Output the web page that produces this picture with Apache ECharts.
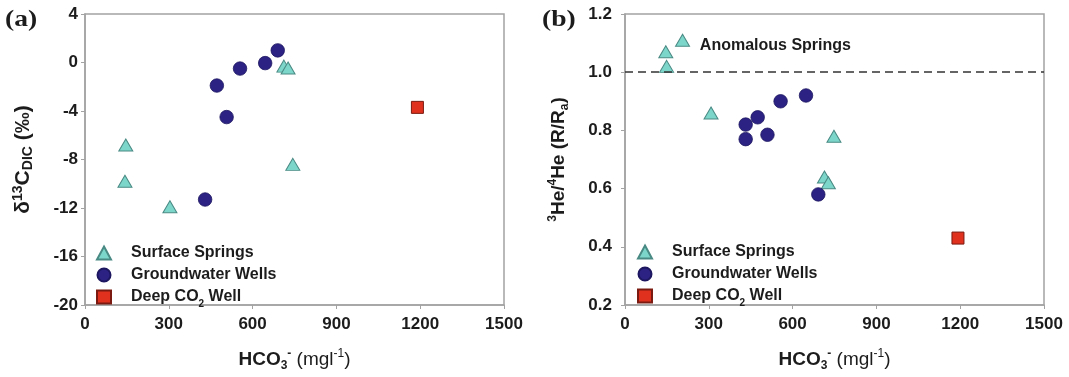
<!DOCTYPE html>
<html>
<head>
<meta charset="utf-8">
<script src="https://cdn.jsdelivr.net/npm/echarts@6/dist/echarts.min.js"></script>
<style>
  html, body { margin: 0; padding: 0; background: #fff; }
  #chart { width: 1069px; height: 377px; }
</style>
</head>
<body>
<div id="chart"></div>
<script>
// Panel (a): delta 13C of DIC vs bicarbonate
const springsA_hco3 = [146, 143, 304, 744, 712, 727];
const springsA_d13c = [-6.8, -9.8, -11.9, -8.4, -0.3, -0.45];
const wellsA_hco3 = [430, 472, 507, 555, 645, 690];
const wellsA_d13c = [-11.3, -1.9, -4.5, -0.5, -0.05, 1.0];
const deepA_hco3 = [1190];
const deepA_d13c = [-3.7];

// Panel (b): helium isotope ratio vs bicarbonate
const springsB_hco3 = [206, 146, 149, 308, 748, 714, 728];
const springsB_ratio = [1.11, 1.07, 1.02, 0.86, 0.78, 0.64, 0.62];
const wellsB_hco3 = [432, 475, 432, 510, 557, 648, 692];
const wellsB_ratio = [0.82, 0.845, 0.77, 0.785, 0.90, 0.92, 0.58];
const deepB_hco3 = [1192];
const deepB_ratio = [0.43];

// Reference lines / notes
const atmosphericRatio = 1.0;
const anomalyNoteAt = [268, 1.092];
const anomalyNote = 'Anomalous Springs';

const seriesNames = ['Surface Springs', 'Groundwater Wells', 'Deep CO2 Well'];
const legendLabels = ['Surface Springs', 'Groundwater Wells', 'Deep CO{s|2} Well'];

const FONT = '"Liberation Sans", Arial, Helvetica, sans-serif';
const AXIS_GREY = '#a3a3a3';
const INK = '#1c1c1c';

const zip = (xs, ys) => xs.map((x, i) => [x, ys[i]]);

const styles = {
  springs: { symbol: 'triangle', symbolSize: [14, 12],
    itemStyle: { color: '#7dd6ca', borderColor: '#4a8a84', borderWidth: 1, opacity: 1 } },
  wells: { symbol: 'circle', symbolSize: 13.5,
    itemStyle: { color: '#2b2284', borderColor: '#1d1760', borderWidth: 0.8, opacity: 1 } },
  deep: { symbol: 'rect', symbolSize: 12,
    itemStyle: { color: '#e0301e', borderColor: '#7a1a10', borderWidth: 1, opacity: 1 } }
};

function scatter(name, style, data, idx, extra) {
  return Object.assign({
    type: 'scatter', name: name, xAxisIndex: idx, yAxisIndex: idx,
    data: data, symbol: style.symbol, symbolSize: style.symbolSize,
    itemStyle: style.itemStyle, z: 3, emphasis: { disabled: true }
  }, extra || {});
}

const subSup = {
  b: { fontFamily: FONT, fontWeight: 'bold', fontSize: 19, lineHeight: 24, color: INK },
  n: { fontFamily: FONT, fontWeight: 'normal', fontSize: 19, lineHeight: 24, color: INK },
  bsub: { fontFamily: FONT, fontWeight: 'bold', fontSize: 12, lineHeight: 12, verticalAlign: 'bottom', color: INK },
  bsup: { fontFamily: FONT, fontWeight: 'bold', fontSize: 12, lineHeight: 12, verticalAlign: 'top', color: INK },
  nsup: { fontFamily: FONT, fontWeight: 'normal', fontSize: 12, lineHeight: 12, verticalAlign: 'top', color: INK }
};

const xName = '{b|HCO}{bsub|3}{bsup|-}{n| (mgl}{nsup|-1}{n|)}';

function xAxis(idx) {
  return {
    type: 'value', gridIndex: idx, min: 0, max: 1500, interval: 300,
    name: xName, nameLocation: 'middle', nameGap: 43,
    nameTextStyle: { rich: subSup },
    axisLine: { show: true, onZero: false, lineStyle: { color: AXIS_GREY, width: 1.5 } },
    axisTick: { show: true, length: 4, lineStyle: { color: AXIS_GREY, width: 1 } },
    axisLabel: { margin: 11, fontFamily: FONT, fontWeight: 'bold', fontSize: 17, color: INK,
      formatter: v => String(v) },
    splitLine: { show: false }
  };
}

const option = {
  animation: false,
  backgroundColor: '#ffffff',
  grid: [
    { left: 85, top: 14, width: 419, height: 292.7, show: true,
      borderColor: AXIS_GREY, borderWidth: 1.5, backgroundColor: 'transparent' },
    { left: 625, top: 14, width: 419, height: 292.7, show: true,
      borderColor: AXIS_GREY, borderWidth: 1.5, backgroundColor: 'transparent' }
  ],
  xAxis: [xAxis(0), xAxis(1)],
  yAxis: [
    {
      type: 'value', gridIndex: 0, min: -20, max: 4, interval: 4,
      name: '{b|δ}{bsup|13}{b|C}{bsub|DIC}{b| (‰)}',
      nameLocation: 'middle', nameRotate: 90, nameGap: 50,
      nameTextStyle: { rich: Object.assign({}, subSup, {
        b: Object.assign({}, subSup.b, { fontSize: 21 }),
        bsub: Object.assign({}, subSup.bsub, { fontSize: 14, lineHeight: 13 }),
        bsup: Object.assign({}, subSup.bsup, { fontSize: 14, lineHeight: 13 })
      }) },
      axisLine: { show: true, onZero: false, lineStyle: { color: AXIS_GREY, width: 1.5 } },
      axisTick: { show: true, length: 4, lineStyle: { color: AXIS_GREY, width: 1 } },
      axisLabel: { margin: 7, fontFamily: FONT, fontWeight: 'bold', fontSize: 17, color: INK },
      splitLine: { show: false }
    },
    {
      type: 'value', gridIndex: 1, min: 0.2, max: 1.2, interval: 0.2,
      name: '{bsup|3}{b|He/}{bsup|4}{b|He (R/R}{bsub|a}{b|)}',
      nameLocation: 'middle', nameRotate: 90, nameGap: 54,
      nameTextStyle: { rich: subSup },
      axisLine: { show: true, onZero: false, lineStyle: { color: AXIS_GREY, width: 1.5 } },
      axisTick: { show: true, length: 4, lineStyle: { color: AXIS_GREY, width: 1 } },
      axisLabel: { margin: 13, fontFamily: FONT, fontWeight: 'bold', fontSize: 17, color: INK,
        formatter: v => v.toFixed(1) },
      splitLine: { show: false }
    }
  ],
  legend: [0, 1].map(i => ({
    orient: 'vertical',
    left: i === 0 ? 91 : 632,
    top: i === 0 ? 240 : 239,
    itemWidth: 14, itemHeight: 13, itemGap: 6,
    selectedMode: false,
    data: seriesNames.map(n => ({ name: n })),
    formatter: name => legendLabels[seriesNames.indexOf(name)],
    textStyle: {
      fontFamily: FONT, fontWeight: 'bold', fontSize: 16, lineHeight: 16, color: INK,
      padding: [0, 0, 0, 15],
      rich: { s: { fontFamily: FONT, fontWeight: 'bold', fontSize: 10, lineHeight: 10,
        verticalAlign: 'bottom', color: INK, padding: [0, 0, -4, 0] } }
    }
  })),
  series: [
    scatter(seriesNames[0], styles.springs, zip(springsA_hco3, springsA_d13c), 0),
    scatter(seriesNames[1], styles.wells, zip(wellsA_hco3, wellsA_d13c), 0),
    scatter(seriesNames[2], styles.deep, zip(deepA_hco3, deepA_d13c), 0),
    scatter(seriesNames[0], styles.springs, zip(springsB_hco3, springsB_ratio), 1, {
      markLine: {
        silent: true, symbol: 'none', animation: false,
        lineStyle: { color: '#333333', width: 1.5, type: [8, 5] },
        label: { show: false },
        data: [{ yAxis: atmosphericRatio }]
      },
      markPoint: {
        silent: true, symbol: 'circle', symbolSize: 0,
        label: { show: true, position: 'right', distance: 0, formatter: anomalyNote,
          fontFamily: FONT, fontWeight: 'bold', fontSize: 16, color: INK },
        data: [{ coord: anomalyNoteAt }]
      }
    }),
    scatter(seriesNames[1], styles.wells, zip(wellsB_hco3, wellsB_ratio), 1),
    scatter(seriesNames[2], styles.deep, zip(deepB_hco3, deepB_ratio), 1)
  ],
  graphic: [
    { type: 'text', left: 5, top: 9, scaleX: 1.2,
      style: { text: '(a)', font: 'bold 23px "Liberation Serif", "Times New Roman", serif', fill: INK } },
    { type: 'text', left: 542, top: 9, scaleX: 1.2,
      style: { text: '(b)', font: 'bold 23px "Liberation Serif", "Times New Roman", serif', fill: INK } }
  ]
};

const chart = echarts.init(document.getElementById('chart'), null, { renderer: 'canvas' });
chart.setOption(option);
</script>
</body>
</html>
